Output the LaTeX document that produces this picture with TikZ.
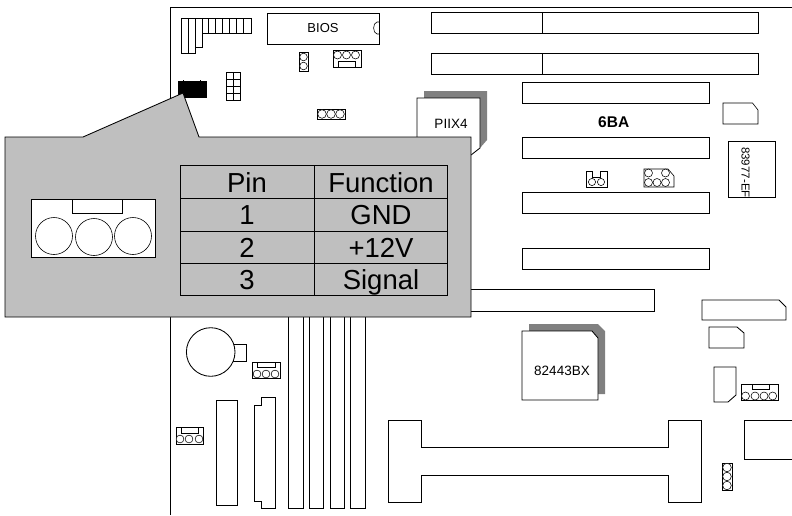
\documentclass[tikz,border=0pt]{standalone}
\usepackage{fontspec}
\setmainfont{Liberation Sans}
\definecolor{panelgray}{gray}{.75}
\definecolor{shadegray}{gray}{.5}
\tikzset{
  part/.style={draw,fill=white,line width=.85pt,line join=miter},
  thin part/.style={draw,fill=white,line width=.6pt},
  shade/.style={fill=shadegray},
  pin/.style={draw,fill=white,line width=.55pt},
  cell/.style={anchor=base,font=\fontsize{27.5}{28}\selectfont,inner sep=0pt},
  chipname/.style={font=\fontsize{13.5}{14}\selectfont,inner sep=0pt}
}
\begin{document}
\begin{tikzpicture}[x=1pt,y=-1pt]
  \useasboundingbox (0,0) rectangle (792,515);
  % board edge
  \draw[line width=.85pt] (170,515) -- (170,7) -- (792,7);
  % top left connector
  \draw[thin part] (181,18) -- (251,18) -- (251,33) -- (202,33) -- (202,47) -- (195.5,47) -- (195.5,53) -- (181,53) -- cycle;
  \foreach \x in {188.5,195.5,202,208,215,222,229,236,243}
    \draw[line width=.6pt] (\x,18) -- (\x,33);
  \draw[line width=.6pt] (188.5,33) -- (188.5,53) (195.5,33) -- (195.5,47);
  % bios
  \draw[part] (267,13) rectangle (379,44);
  \draw[line width=.6pt] (379,22) -- (377,22) .. controls (372.5,23) and (372.5,33) .. (377,34) -- (379,34);
  \node[chipname,font=\fontsize{13}{14}\selectfont] (bios) at (323,28) {BIOS};
  % jumpers under the bios
  \draw[thin part] (299,52) rectangle (308,71);
  \foreach \y in {57,66}
    \draw[pin] (303.5,\y) circle (3.8);
  \draw[thin part] (333,50) rectangle (361,67);
  \draw[line width=.6pt] (338,67) -- (338,61) -- (355,61) -- (355,67);
  \foreach \x in {337.5,346.5,355.5}
    \draw[pin] (\x,55) circle (4);
  % black header and grid
  \fill (178,81) rectangle (207,98);
  \draw[line width=.4pt] (183,80) -- (183,81) (200,80) -- (200,81);
  \draw[line width=.85pt] (226,72) rectangle (240,100) (233,72) -- (233,100);
  \foreach \y in {79,86,93}
    \draw[line width=.85pt] (226,\y) -- (240,\y);
  \draw[thin part] (317,109) rectangle (345,119);
  \foreach \x in {322,331,340}
    \draw[pin] (\x,114) circle (4.3);
  % piix4
  \fill[shade] (424,91) -- (487,91) -- (487,140) -- (480,148) -- (424,148) -- cycle;
  \draw[part] (417,98) -- (480,98) -- (480,148) -- (471,155) -- (417,155) -- cycle;
  \node[chipname] (piix) at (451,124) {PIIX4};
  % top slots
  \draw[part] (431,12) rectangle (758,33) (542,12) -- (542,33);
  \draw[part] (431,53) rectangle (758,74) (542,53) -- (542,74);
  \foreach \y/\h in {82/21,137/21,192/21,248/21}
    \draw[part] (522,\y) rectangle +(187,\h);
  \node[font=\bfseries\fontsize{15.5}{16}\selectfont,inner sep=0pt] (board) at (613.7,121.7) {6BA};
  \draw[thin part] (723,103) -- (752.5,103) -- (758,110) -- (758,124) -- (723,124) -- cycle;
  \draw[thin part] (728,141) rectangle (775,197);
  \begin{scope}
    \clip (728,141) rectangle (775,197);
    \node[rotate=-90,inner sep=0pt,font=\fontsize{11.5}{12}\selectfont,anchor=west] (sio) at (745.5,147) {83977-EF};
  \end{scope}
  % jumpers between slots
  \draw[thin part] (586,171) -- (592,171) -- (592,177) -- (600.5,177) -- (600.5,171) -- (607,171) -- (607,187) -- (586,187) -- cycle;
  \foreach \x in {592,601}
    \draw[pin] (\x,182) circle (3.6);
  \draw[thin part] (644,169) -- (668,169) -- (674,176) -- (674,187) -- (644,187) -- cycle;
  \foreach \x/\y in {648.5/173,665.5/173,648.5/182.5,657/182.5,665.5/182.5}
    \draw[pin] (\x,\y) circle (4);
  % long slot
  \draw[part] (460,289) rectangle (654,311);
  % memory
  \foreach \x in {288.7,309,330,350.7}
    \draw[part] (\x,310) rectangle +(14.3,198);
  % info panel
  \draw[fill=panelgray,line width=.85pt] (5,137) -- (83,137) -- (183,93) -- (199,137) -- (471,137) -- (471,317) -- (5,317) -- cycle;
  \draw[part,fill=white,line width=.6pt] (31,199) rectangle (155,257);
  \draw[line width=.6pt] (72,199) rectangle (122,213);
  \draw[line width=.6pt] (54,236) circle (18.5) (94,237) circle (18.5) (133,236) circle (18.5);
  % table
  \draw[line width=.7pt] (180,165) rectangle (447,295) (314,165) -- (314,295);
  \foreach \y in {198,231,263}
    \draw[line width=.7pt] (180,\y) -- (447,\y);
  \node[cell] (pinh) at (247,192) {Pin};
  \node[cell] (funh) at (381,192) {Function};
  \node[cell] (pina) at (247,224.5) {1};
  \node[cell] (funa) at (381,224.5) {GND};
  \node[cell] (pinb) at (247,257) {2};
  \node[cell] (funb) at (381,257) {+12V};
  \node[cell] (pinc) at (247,289.5) {3};
  \node[cell] (func) at (381,289.5) {Signal};
  % north bridge
  \fill[shade] (529,324) -- (598,324) -- (605,331) -- (605,394) -- (529,394) -- cycle;
  \draw[part] (522,331) -- (592,331) -- (598,338) -- (598,400) -- (522,400) -- cycle;
  \node[chipname] (nb) at (562,371) {82443BX};
  % right side chips
  \draw[part] (702,300) -- (779,300) -- (786,307) -- (786,320) -- (702,320) -- cycle;
  \draw[part] (709,327) -- (737,327) -- (744,333) -- (744,348) -- (709,348) -- cycle;
  \draw[part] (714,367) -- (736,367) -- (736,395) -- (728,402) -- (714,402) -- cycle;
  \draw[thin part] (741,384) rectangle (778,400);
  \draw[line width=.6pt] (752,384) -- (752,389) -- (769,389) -- (769,384);
  \foreach \x in {745.5,755,764,772.7}
    \draw[pin] (\x,396) circle (4);
  \draw[part] (744,420) -- (792,420) (744,420) -- (744,459) -- (792,459);
  \draw[thin part] (722,463) rectangle (732,490);
  \foreach \y in {467.5,476.5,485.5}
    \draw[pin] (727,\y) circle (4.3);
  % processor slot
  \draw[part] (388,420) -- (421,420) -- (421,447) -- (668,447) -- (668,420) -- (701,420) -- (701,502) -- (668,502) -- (668,475) -- (421,475) -- (421,502) -- (388,502) -- cycle;
  % battery and lower left
  \draw[part] (225,344) rectangle (246,361);
  \draw[part] (210.7,352) circle (24.3);
  \draw[thin part] (252,362) rectangle (280,378);
  \draw[line width=.6pt] (257,362) -- (257,367) -- (275,367) -- (275,362);
  \foreach \x in {257,266,275}
    \draw[pin] (\x,374) circle (3.9);
  \draw[thin part] (176,427) rectangle (203,444);
  \draw[line width=.6pt] (181,427) -- (181,433) -- (198,433) -- (198,427);
  \foreach \x in {180,189,199}
    \draw[pin] (\x,439) circle (3.9);
  \draw[part] (216,400) rectangle (237,505);
  \draw[part] (261.3,397.7) -- (275.3,397.7) -- (275.3,508.3) -- (261.3,508.3) -- (261.3,501.7) -- (254.7,501.7) -- (254.7,405) -- (261.3,405) -- cycle;
\end{tikzpicture}
\end{document}
